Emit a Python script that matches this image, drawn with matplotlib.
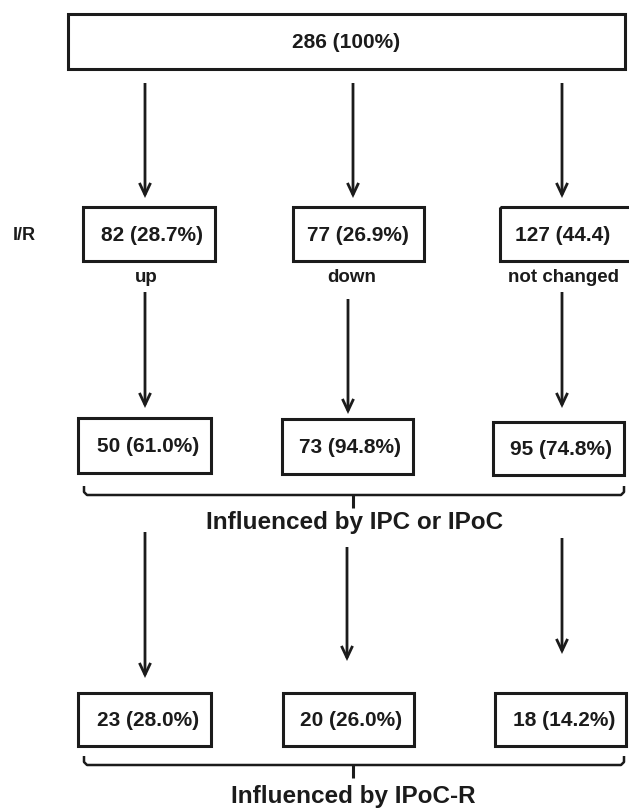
import matplotlib
matplotlib.use("Agg")
import matplotlib.pyplot as plt
from matplotlib.patches import Rectangle

plt.rcParams['font.family'] = ['Liberation Sans', 'DejaVu Sans']

# ---- data ----
total_label = "286 (100%)"
level1_labels = ["82 (28.7%)", "77 (26.9%)", "127 (44.4)"]
level1_captions = ["up", "down", "not changed"]
level2_labels = ["50 (61.0%)", "73 (94.8%)", "95 (74.8%)"]
level3_labels = ["23 (28.0%)", "20 (26.0%)", "18 (14.2%)"]
row_label = "I/R"
group_label_1 = "Influenced by IPC or IPoC"
group_label_2 = "Influenced by IPoC-R"

# ---- layout (pixel coordinates, y downward) ----
W, H = 629, 809
fig = plt.figure(figsize=(W / 100, H / 100), dpi=100)
ax = fig.add_axes([0, 0, 1, 1])
ax.set_xlim(0, W)
ax.set_ylim(H, 0)
ax.axis('off')

INK = '#1b1b1b'
BOX_LW = 2.2


def box(x0, x1, y0, y1, text, tx=None):
    ax.add_patch(Rectangle((x0, y0), x1 - x0, y1 - y0, fill=False,
                           edgecolor=INK, lw=BOX_LW, joinstyle='miter'))
    cx = (x0 + x1) / 2 if tx is None else tx
    ax.text(cx, (y0 + y1) / 2 + 1, text, ha='center', va='center',
            fontsize=15, fontweight='bold', color=INK)


def arrow(x, y0, y1):
    ax.annotate('', xy=(x, y1), xytext=(x, y0),
                arrowprops=dict(arrowstyle='->,head_length=0.85,head_width=0.4',
                                lw=2.0, color=INK, shrinkA=0, shrinkB=0,
                                joinstyle='miter', capstyle='butt'))


def brace(x0, x1, ytop, yline, xc, ytick):
    r = 3
    ax.plot([x0, x0, x0 + r, x1 - r, x1, x1],
            [ytop, yline - r, yline, yline, yline - r, ytop],
            color=INK, lw=1.8, solid_capstyle='butt')
    ax.plot([xc, xc], [yline, ytick], color=INK, lw=2.2, solid_capstyle='butt')


# top box
box(68, 625, 14, 69, total_label)

# arrows to level 1
for x in [145, 353, 562]:
    arrow(x, 83, 198)

# level 1
l1_boxes = [(83, 215), (293, 424), (500, 640)]
for (x0, x1), lab, tx in zip(l1_boxes, level1_labels, [152, 358, 563]):
    box(x0, x1, 207, 261, lab, tx=tx)
ax.text(24, 235, row_label, ha='center', va='center', fontsize=13,
        fontweight='bold', color=INK)
for x, cap in zip([146, 352, 563], level1_captions):
    ax.text(x, 278, cap, ha='center', va='center', fontsize=13.5,
            fontweight='bold', color=INK)

# arrows to level 2
for x, y0, y1 in [(145, 292, 408), (348, 299, 414), (562, 292, 408)]:
    arrow(x, y0, y1)

# level 2
l2_boxes = [(78, 211, 418, 473), (282, 413, 419, 474), (493, 624, 422, 475)]
for (x0, x1, y0, y1), lab, tx in zip(l2_boxes, level2_labels, [148, 350, 561]):
    box(x0, x1, y0, y1, lab, tx=tx)
brace(84, 624, 486, 495, 353, 508)
ax.text(355, 522, group_label_1, ha='center', va='center', fontsize=17.5,
        fontweight='bold', color=INK)

# arrows to level 3
for x, y0, y1 in [(145, 532, 678), (347, 547, 661), (562, 538, 654)]:
    arrow(x, y0, y1)

# level 3
l3_boxes = [(78, 211), (283, 414), (495, 626)]
for (x0, x1), lab, tx in zip(l3_boxes, level3_labels, [148, 351, 564]):
    box(x0, x1, 693, 746, lab, tx=tx)
brace(84, 624, 756, 765, 353, 778)
ax.text(353, 796, group_label_2, ha='center', va='center', fontsize=17.5,
        fontweight='bold', color=INK)

fig.savefig('out.png', dpi=100, facecolor='white')
